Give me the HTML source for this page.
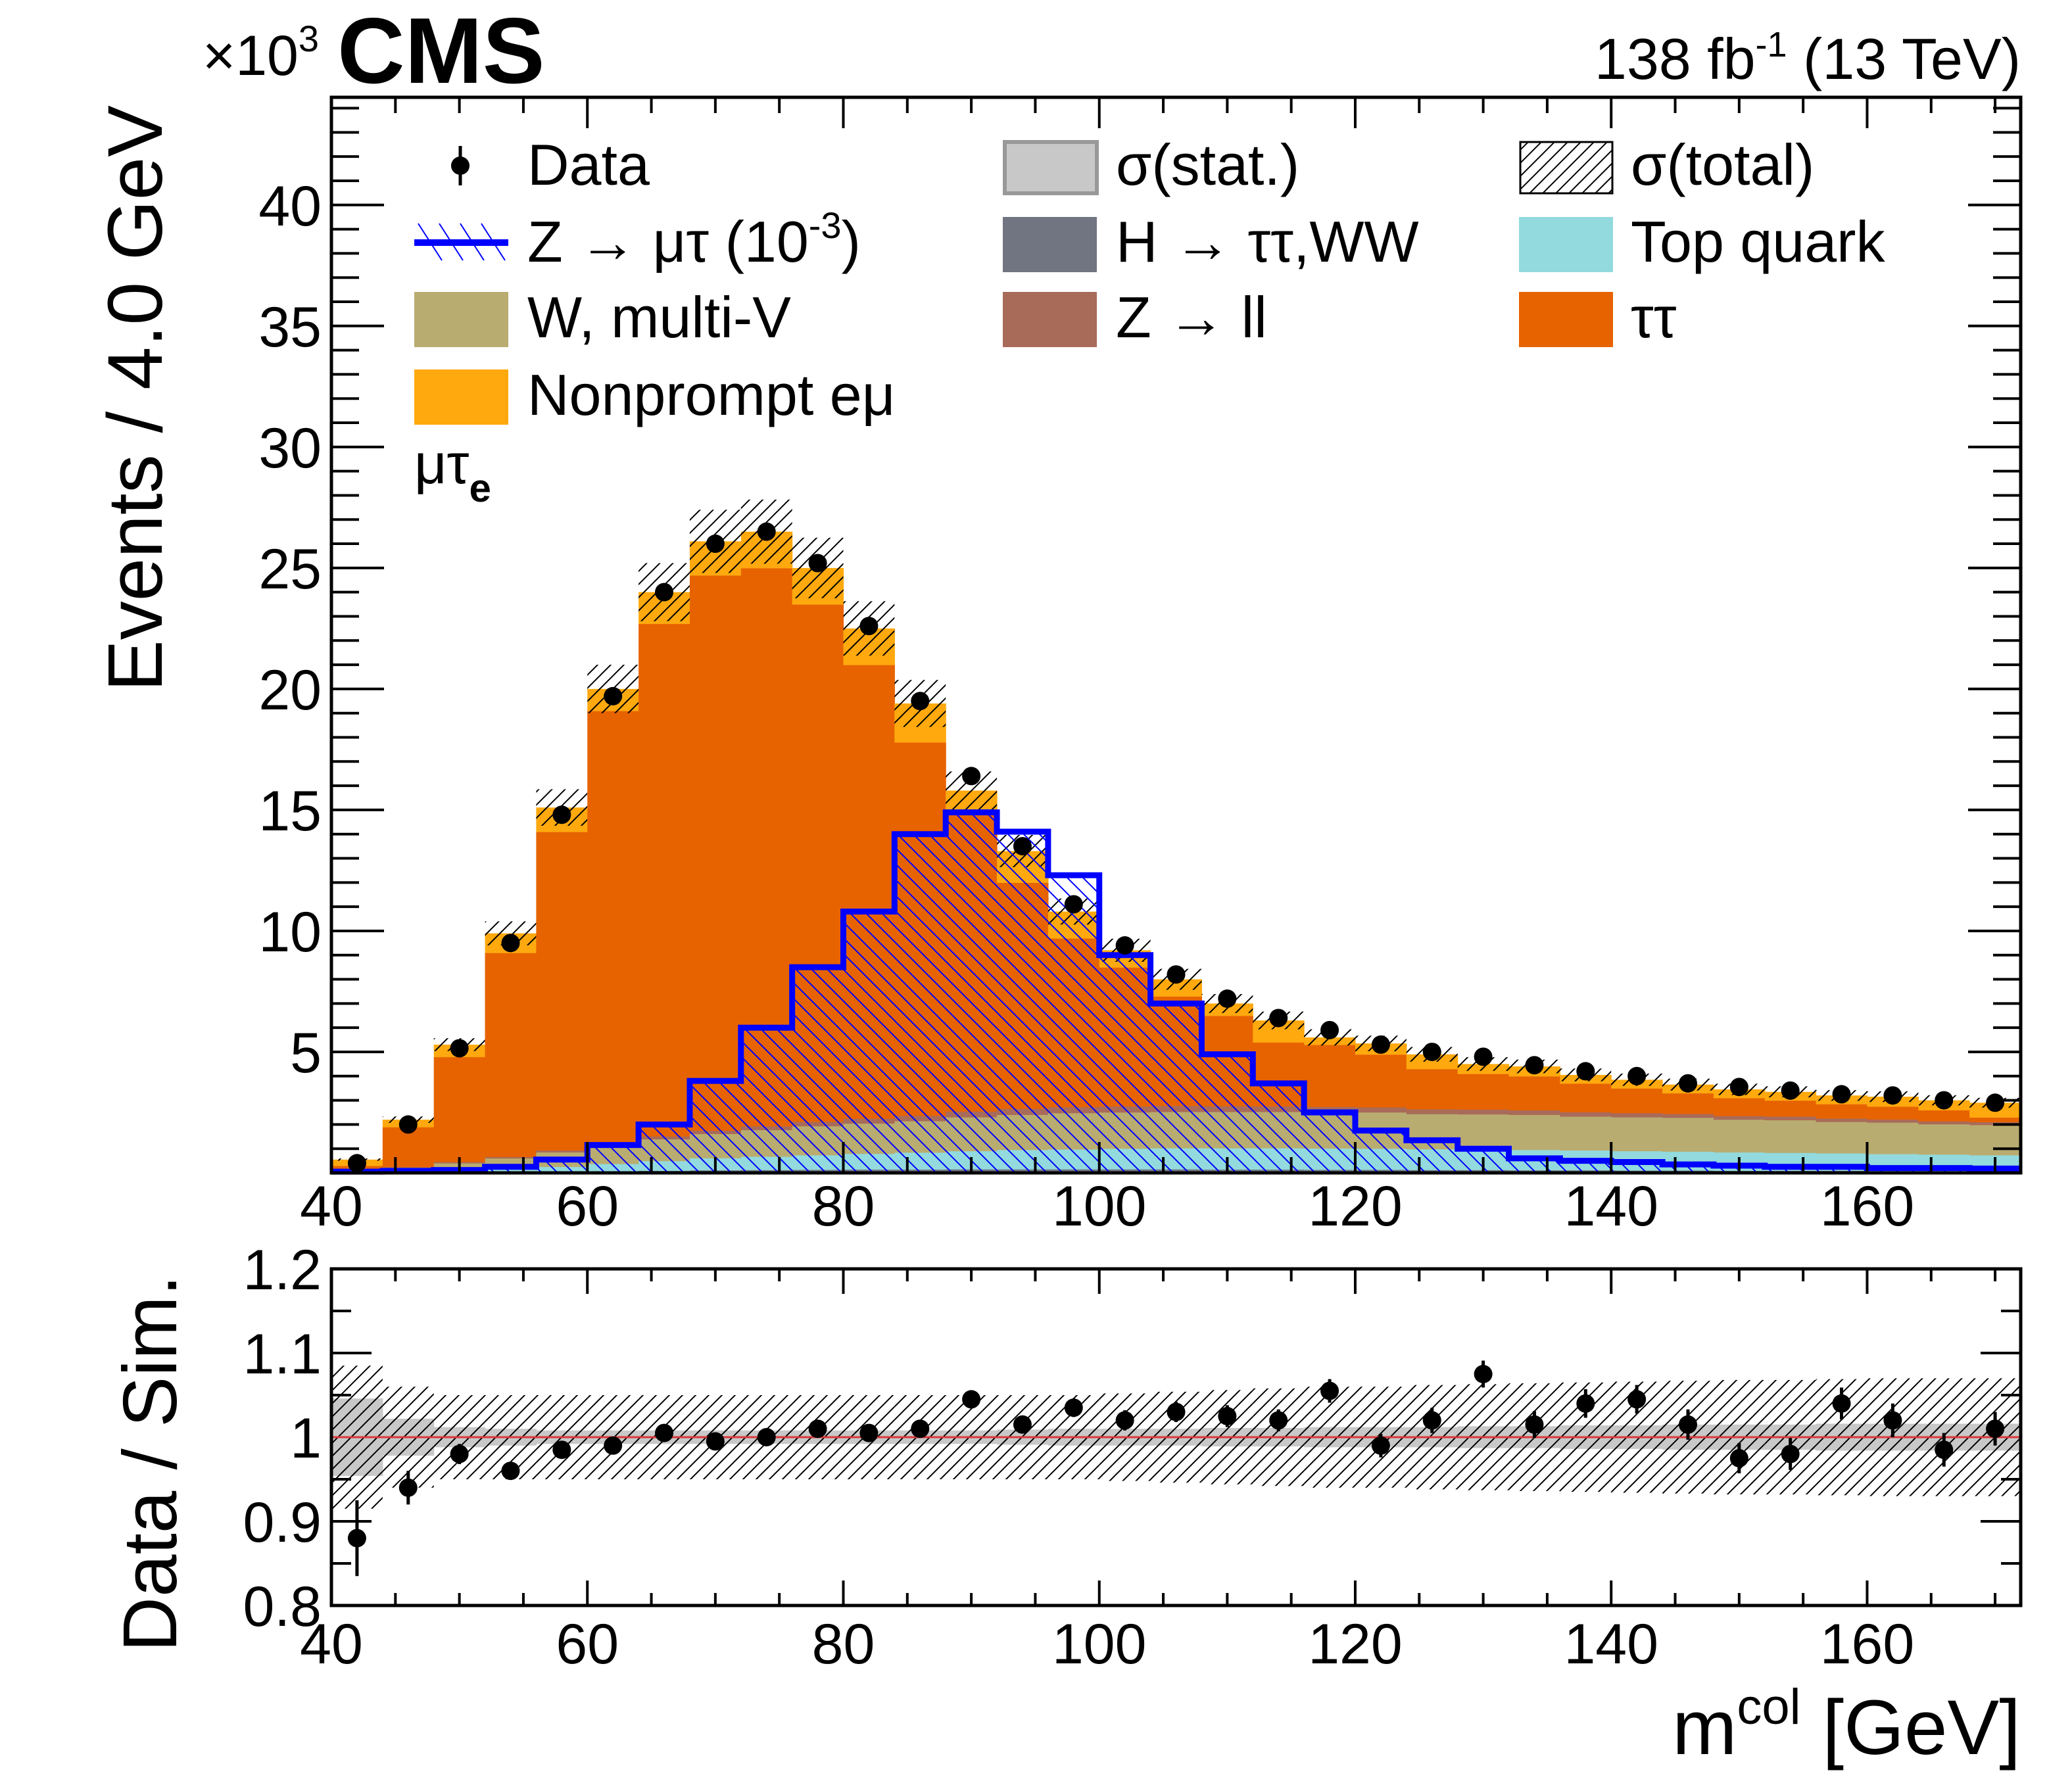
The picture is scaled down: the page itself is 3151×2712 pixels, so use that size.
<!DOCTYPE html>
<html><head><meta charset="utf-8"><style>
html,body{margin:0;padding:0;background:#fff}
svg{display:block}
text{font-family:"Liberation Sans",sans-serif;fill:#000}
</style></head><body>
<svg id="c" width="3151" height="2712" viewBox="0 0 3151 2712" xmlns="http://www.w3.org/2000/svg">
<defs>
<pattern id="hb" patternUnits="userSpaceOnUse" width="20" height="20"><path d="M-5,25 L25,-5 M-5,5 L5,-5 M15,25 L25,15" stroke="#000" stroke-width="2"/></pattern>
<pattern id="hs" patternUnits="userSpaceOnUse" width="24" height="24"><path d="M-6,-6 L30,30 M-6,18 L6,30 M18,-6 L30,6" stroke="#0000ff" stroke-width="2"/></pattern>
</defs>
<g id="main"></g>
<g id="ratio"></g>
<g id="labels"></g>
</svg>
<script>
const binLo = [40,44,48,52,56,60,64,68,72,76,80,84,88,92,96,100,104,108,112,116,120,124,128,132,136,140,144,148,152,156,160,164,168];
const dataVals = [0.4,2.0,5.15,9.5,14.8,19.7,24.0,26.0,26.5,25.2,22.6,19.5,16.4,13.5,11.1,9.4,8.2,7.2,6.4,5.9,5.3,5.0,4.8,4.45,4.2,4.0,3.7,3.55,3.4,3.25,3.2,3.0,2.9];
const hVals = [0.01,0.02,0.03,0.04,0.06,0.08,0.1,0.12,0.13,0.14,0.15,0.15,0.16,0.16,0.16,0.16,0.16,0.15,0.15,0.14,0.14,0.13,0.13,0.12,0.12,0.11,0.11,0.1,0.1,0.1,0.09,0.09,0.08];
const topVals = [0.02,0.05,0.08,0.12,0.2,0.3,0.4,0.5,0.55,0.6,0.65,0.7,0.75,0.8,0.82,0.85,0.87,0.88,0.88,0.88,0.87,0.86,0.85,0.84,0.82,0.8,0.78,0.76,0.74,0.72,0.7,0.68,0.66];
const wvVals = [0.05,0.15,0.3,0.45,0.6,0.75,0.9,1.0,1.1,1.2,1.25,1.3,1.4,1.45,1.5,1.5,1.5,1.5,1.5,1.5,1.5,1.45,1.45,1.45,1.4,1.4,1.4,1.35,1.35,1.3,1.3,1.25,1.25];
const zllVals = [0.02,0.03,0.05,0.06,0.08,0.1,0.12,0.14,0.16,0.18,0.2,0.22,0.24,0.25,0.25,0.25,0.25,0.24,0.23,0.22,0.21,0.2,0.2,0.19,0.18,0.17,0.16,0.15,0.15,0.14,0.13,0.12,0.12];
const ttVals = [0.2,1.65,4.34,8.43,13.16,17.87,21.18,22.94,23.06,21.38,18.75,15.43,12.45,9.34,6.97,5.74,4.52,3.73,2.64,2.56,2.18,1.66,1.47,1.4,1.18,1.02,0.85,0.74,0.66,0.59,0.53,0.46,0.19];
const npVals = [0.25,0.3,0.5,0.8,1.0,0.9,1.3,1.4,1.5,1.5,1.5,1.6,0.8,1.3,1.1,0.7,0.7,0.5,0.9,0.3,0.45,0.6,0.4,0.4,0.35,0.35,0.35,0.35,0.35,0.35,0.4,0.4,0.6];
const sigVals = [0.05,0.08,0.12,0.25,0.55,1.15,2.0,3.8,6.0,8.5,10.8,14.0,14.9,14.1,12.3,9.0,7.0,4.9,3.7,2.5,1.75,1.35,1.0,0.6,0.5,0.45,0.35,0.3,0.25,0.25,0.2,0.2,0.18];
const ratioVals = [0.88,0.94,0.98,0.96,0.985,0.99,1.005,0.995,1.0,1.01,1.005,1.01,1.045,1.015,1.035,1.02,1.03,1.025,1.02,1.055,0.99,1.02,1.075,1.015,1.04,1.045,1.015,0.975,0.98,1.04,1.02,0.985,1.01];
const ratioErr = [0.045,0.02,0.012,0.01,0.008,0.008,0.008,0.008,0.008,0.008,0.008,0.009,0.01,0.01,0.011,0.012,0.012,0.013,0.013,0.014,0.014,0.015,0.016,0.016,0.017,0.017,0.018,0.018,0.019,0.019,0.02,0.02,0.02];
const statRel = [0.046,0.022,0.012,0.01,0.008,0.008,0.008,0.008,0.008,0.008,0.008,0.008,0.008,0.009,0.01,0.01,0.01,0.011,0.011,0.012,0.012,0.012,0.013,0.013,0.014,0.014,0.015,0.015,0.015,0.016,0.016,0.016,0.016];
const totRel = [0.085,0.06,0.05,0.05,0.05,0.05,0.05,0.05,0.05,0.05,0.05,0.05,0.05,0.05,0.05,0.052,0.054,0.056,0.058,0.06,0.06,0.062,0.063,0.064,0.065,0.066,0.067,0.068,0.068,0.069,0.07,0.07,0.07];
const xTicks = [40,60,80,100,120,140,160];
const yTicks = [5,10,15,20,25,30,35,40];
const rTicks = [0.8,0.9,1,1.1,1.2];
const rTickLabels = ["0.8","0.9","1","1.1","1.2"];

const NS="http://www.w3.org/2000/svg";
const L=504,R=3073,MT=148,MB=1784,RT=1930,RB=2442;
const X0=40,X1=172,YMAX=44.45,BW=4;
const xs=v=>L+(v-X0)/(X1-X0)*(R-L);
const ys=v=>MB-v/YMAX*(MB-MT);
const yr=v=>RT+(1.2-v)/0.4*(RB-RT);
function mk(tag,attrs,parent){const e=document.createElementNS(NS,tag);for(const k in attrs)e.setAttribute(k,attrs[k]);parent.appendChild(e);return e;}
const main=document.getElementById('main'),ratio=document.getElementById('ratio'),lab=document.getElementById('labels');







const comps=[[hVals,'#717581','higgs'],[topVals,'#92dadd','top-quark'],[zllVals,'#a96b59','z-ll'],[wvVals,'#b9ac70','w-multi-v'],[ttVals,'#e76300','tautau'],[npVals,'#ffa90e','nonprompt']];
const order=[0,1,3,2,4,5];
for(let i=0;i<binLo.length;i++){
  let cum=0;
  const x0=xs(binLo[i]),x1=xs(binLo[i]+BW);
  for(const ci of order){
    const c=comps[ci];const v=c[0][i];
    const r=mk('rect',{x:x0,y:ys(cum+v),width:x1-x0+0.6,height:ys(cum)-ys(cum+v)+0.6,fill:c[1]},main);
    
    
    cum+=v;
  }
  const hb=mk('rect',{x:x0,y:ys(cum*(1+totRel[i])),width:x1-x0,height:ys(cum*(1-totRel[i]))-ys(cum*(1+totRel[i])),fill:'url(#hb)'},main);
  
  
}
let d='M'+xs(X0)+','+ys(0);
for(let i=0;i<binLo.length;i++){d+=' L'+xs(binLo[i])+','+ys(sigVals[i])+' L'+xs(binLo[i]+BW)+','+ys(sigVals[i]);}
d+=' L'+xs(X1)+','+ys(0)+' Z';
const sf=mk('path',{d:d,fill:'url(#hs)',stroke:'none'},main);


let d2='M'+xs(X0)+','+ys(sigVals[0]);
for(let i=0;i<binLo.length;i++){d2+=' L'+xs(binLo[i])+','+ys(sigVals[i])+' L'+xs(binLo[i]+BW)+','+ys(sigVals[i]);}
const sl=mk('path',{d:d2,fill:'none',stroke:'#0000ff','stroke-width':9},main);


for(let i=0;i<binLo.length;i++){
  const cx=xs(binLo[i]+BW/2);
  const e=Math.sqrt(dataVals[i]*1000)/1000;
  const ln=mk('line',{x1:cx,x2:cx,y1:ys(dataVals[i]+e),y2:ys(dataVals[i]-e),stroke:'#000','stroke-width':5},main);
  
  
  const p=mk('circle',{cx:cx,cy:ys(dataVals[i]),r:14,fill:'#000'},main);
  
  
}
const fr=mk('rect',{x:L,y:MT,width:R-L,height:MB-MT,fill:'none',stroke:'#000','stroke-width':5},main);


function tick(g,x1,y1,x2,y2){mk('line',{x1:x1,y1:y1,x2:x2,y2:y2,stroke:'#000','stroke-width':4},g);}
for(let v=40;v<=172;v+=5){const big=v%20===0;const x=xs(v);const l=big?47:24;tick(main,x,MB,x,MB-l);tick(main,x,MT,x,MT+l);
  tick(ratio,x,RB,x,RB-(big?38:19));tick(ratio,x,RT,x,RT+(big?38:19));}
for(let v=1;v<=44;v++){const big=v%5===0;const y=ys(v);const l=big?80:42;tick(main,L,y,L+l,y);tick(main,R,y,R-l,y);}
for(let k=0;k<=8;k++){const v=0.8+k*0.05;const big=k%2===0;const y=yr(v);const l=big?61:30;tick(ratio,L,y,L+l,y);tick(ratio,R,y,R-l,y);}
for(const t of yTicks){const tx=mk('text',{x:489,y:ys(t)+31,'font-size':86,'text-anchor':'end'},lab);tx.textContent=t;
  
  }
for(const t of xTicks){const tx=mk('text',{x:xs(t),y:1864,'font-size':86,'text-anchor':'middle'},lab);tx.textContent=t;
  
  
  const t2=mk('text',{x:xs(t),y:2530,'font-size':86,'text-anchor':'middle'},lab);t2.textContent=t;
  
  }
rTicks.forEach((t,k)=>{const tx=mk('text',{x:489,y:yr(t)+31,'font-size':86,'text-anchor':'end'},lab);tx.textContent=rTickLabels[k];
  
  });
for(let i=0;i<binLo.length;i++){
  const x0=xs(binLo[i]),x1=xs(binLo[i]+BW);
  const g=mk('rect',{x:x0,y:yr(1+statRel[i]),width:x1-x0+0.6,height:yr(1-statRel[i])-yr(1+statRel[i]),fill:'#c8c8c8'},ratio);
  
  
  const h=mk('rect',{x:x0,y:yr(1+totRel[i]),width:x1-x0,height:yr(1-totRel[i])-yr(1+totRel[i]),fill:'url(#hb)'},ratio);
  
  
}
const one=mk('line',{x1:L,x2:R,y1:yr(1),y2:yr(1),stroke:'#d9383a','stroke-width':3},ratio);


for(let i=0;i<binLo.length;i++){
  const cx=xs(binLo[i]+BW/2);
  const ln=mk('line',{x1:cx,x2:cx,y1:yr(ratioVals[i]+ratioErr[i]),y2:yr(ratioVals[i]-ratioErr[i]),stroke:'#000','stroke-width':5},ratio);
  
  
  const p=mk('circle',{cx:cx,cy:yr(ratioVals[i]),r:14,fill:'#000'},ratio);
  
  
}
const rf=mk('rect',{x:L,y:RT,width:R-L,height:RB-RT,fill:'none',stroke:'#000','stroke-width':5},ratio);


</script>
<svg style="position:absolute;left:0;top:0" width="3151" height="2712" viewBox="0 0 3151 2712" xmlns="http://www.w3.org/2000/svg">
<text x="513" y="126" font-size="142" font-weight="bold">CMS</text>
<text x="308" y="114" font-size="86">×10<tspan font-size="56" dy="-36">3</tspan></text>
<text x="3073" y="120" font-size="88" text-anchor="end">138 fb<tspan font-size="54" dy="-34">-1</tspan><tspan dy="34"> (13 TeV)</tspan></text>
<text transform="translate(246,160) rotate(-90)" font-size="118" text-anchor="end">Events / 4.0 GeV</text>
<text transform="translate(268,1939) rotate(-90)" font-size="116" text-anchor="end">Data / Sim.</text>
<text x="3073" y="2668" font-size="118" text-anchor="end">m<tspan font-size="76" dy="-46">col</tspan><tspan dy="46"> [GeV]</tspan></text>
<text x="630" y="735" font-size="86">μτ<tspan font-size="60" font-weight="bold" dy="28">e</tspan></text>
<g>
<line x1="700" y1="222" x2="700" y2="282" stroke="#000" stroke-width="5"/><circle cx="700" cy="252" r="14" fill="#000"/>
<text x="802" y="281" font-size="88">Data</text>
<g stroke="#0000ff" stroke-width="2"><line x1="636" y1="340" x2="672" y2="396"/><line x1="668" y1="340" x2="704" y2="396"/><line x1="700" y1="340" x2="736" y2="396"/><line x1="732" y1="340" x2="768" y2="396"/></g>
<line x1="630" y1="369" x2="773" y2="369" stroke="#0000ff" stroke-width="10"/>
<text x="802" y="398" font-size="88">Z → μτ (10<tspan font-size="56" dy="-36">-3</tspan><tspan dy="36">)</tspan></text>
<rect x="630" y="444" width="143" height="84" fill="#b9ac70"/>
<text x="802" y="513" font-size="88">W, multi-V</text>
<rect x="630" y="562" width="143" height="84" fill="#ffa90e"/>
<text x="802" y="631" font-size="88">Nonprompt eμ</text>
<rect x="1528" y="216" width="140" height="78" fill="#c8c8c8" stroke="#999" stroke-width="6"/>
<text x="1697" y="281" font-size="88">σ(stat.)</text>
<rect x="1525" y="330" width="143" height="84" fill="#717581"/>
<text x="1697" y="398" font-size="88">H → ττ,WW</text>
<rect x="1525" y="444" width="143" height="84" fill="#a96b59"/>
<text x="1697" y="513" font-size="88">Z → ll</text>
<rect x="2312" y="216" width="140" height="78" fill="url(#hb)" stroke="#000" stroke-width="3"/>
<text x="2480" y="281" font-size="88">σ(total)</text>
<rect x="2310" y="330" width="143" height="84" fill="#92dadd"/>
<text x="2480" y="398" font-size="88">Top quark</text>
<rect x="2310" y="444" width="143" height="84" fill="#e76300"/>
<text x="2480" y="513" font-size="88">ττ</text>
</g>
</svg>
</body></html>
